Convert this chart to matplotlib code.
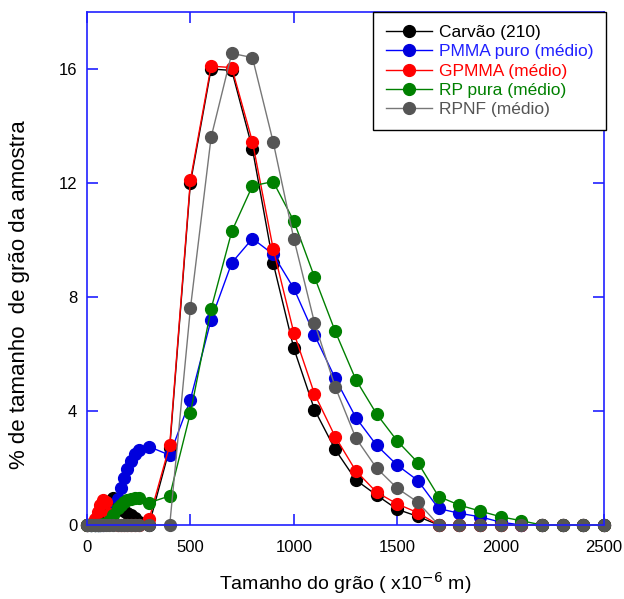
import matplotlib
matplotlib.use("Agg")
import matplotlib.pyplot as plt

plt.rcParams['font.family'] = ['Liberation Sans', 'DejaVu Sans']

# ---- data ----
x_low = [0, 20, 40, 53, 63, 75, 90, 106, 125, 150, 165, 180, 195, 212, 230, 250, 300]
x_main = [400, 500, 600, 700, 800, 900, 1000, 1100, 1200, 1300, 1400, 1500, 1600,
          1700, 1800, 1900, 2000, 2100, 2200, 2300, 2400, 2500]

carvao_low = [0, 0, 0, 0, 0.05, 0.1, 0.3, 0.6, 0.95, 0.8, 0.65, 0.5, 0.42, 0.35, 0.25, 0.1, 0]
carvao_main = [2.7, 12.0, 16.0, 15.95, 13.2, 9.2, 6.2, 4.05, 2.65, 1.58, 1.05, 0.55, 0.3,
               0, 0, 0, 0, 0, 0, 0, 0, 0]

pmma_low = [0, 0, 0, 0, 0, 0, 0.05, 0.15, 0.5, 0.9, 1.3, 1.65, 1.95, 2.25, 2.5, 2.63, 2.75]
pmma_main = [2.45, 4.4, 7.2, 9.2, 10.05, 9.5, 8.3, 6.67, 5.15, 3.77, 2.8, 2.1, 1.56,
             0.58, 0.41, 0.29, 0.1, 0, 0, 0, 0, 0]

gpmma_low = [0, 0.05, 0.2, 0.45, 0.7, 0.88, 0.8, 0.4, 0.05, 0, 0, 0, 0, 0, 0, 0, 0.2]
gpmma_main = [2.8, 12.1, 16.1, 16.05, 13.45, 9.7, 6.75, 4.6, 3.1, 1.9, 1.15, 0.74, 0.43,
              0, 0, 0, 0, 0, 0, 0, 0, 0]

rp_low = [0, 0, 0, 0, 0, 0.02, 0.05, 0.15, 0.35, 0.6, 0.7, 0.8, 0.87, 0.92, 0.95, 0.95, 0.78]
rp_main = [1.02, 3.93, 7.58, 10.3, 11.9, 12.05, 10.67, 8.7, 6.8, 5.1, 3.9, 2.95, 2.19,
           1.0, 0.7, 0.49, 0.29, 0.15, 0, 0, 0, 0]

rpnf_low = [0] * 17
rpnf_main = [0, 7.6, 13.6, 16.55, 16.4, 13.45, 10.05, 7.1, 4.85, 3.05, 2.0, 1.29, 0.8,
             0, 0, 0, 0, 0, 0, 0, 0, 0]

labels = ['Carvão (210)', 'PMMA puro (médio)', 'GPMMA (médio)', 'RP pura (médio)', 'RPNF (médio)']
colors = ['#000000', '#0000dd', '#ff0000', '#008000', '#555555']
line_colors = ['#000000', '#0000ff', '#ff0000', '#008000', '#777777']
text_colors = ['#000000', '#2020ff', '#ff0000', '#008000', '#555555']
series = [carvao_low + carvao_main, pmma_low + pmma_main, gpmma_low + gpmma_main,
          rp_low + rp_main, rpnf_low + rpnf_main]
xs = x_low + x_main

x_ticks = [0, 500, 1000, 1500, 2000, 2500]
y_ticks = [0, 4, 8, 12, 16]

fig = plt.figure(figsize=(6.24, 5.99), dpi=100)
ax = fig.add_axes([87/624, 1-525/599, (604-87)/624, (525-12)/599])

for ys, lab, mc, lc in zip(series, labels, colors, line_colors):
    ax.plot(xs, ys, '-', color=lc, lw=1.0, marker='o', ms=8.5,
            mfc=mc, mec=mc, label=lab, clip_on=False)

ax.set_xlim(0, 2500)
ax.set_ylim(0, 18)
ax.set_xticks(x_ticks)
ax.set_yticks(y_ticks)
axis_blue = '#2020ff'
for s in ax.spines.values():
    s.set_color(axis_blue)
    s.set_linewidth(1.2)
ax.tick_params(direction='in', length=8, width=1.2, color=axis_blue,
               top=True, right=True, labelsize=12, labelcolor='black')
ax.tick_params(axis='x', pad=11)
ax.tick_params(axis='y', pad=7)
ax.set_xlabel('Tamanho do grão ( x10$^{-6}$ m)', fontsize=14, labelpad=11)
ax.set_ylabel('% de tamanho  de grão da amostra', fontsize=16)
ax.yaxis.set_label_coords(-0.111, 0.45)

leg = ax.legend(loc='upper right', bbox_to_anchor=(1.004, 1.0), fontsize=12.5,
                frameon=True, fancybox=False, edgecolor='black', framealpha=1,
                handlelength=2.7, borderpad=0.75, labelspacing=0.24, handletextpad=0.35,
                borderaxespad=0)
leg.get_frame().set_linewidth(1.0)
for t, c in zip(leg.get_texts(), text_colors):
    t.set_color(c)

fig.savefig('out.png', dpi=100)
